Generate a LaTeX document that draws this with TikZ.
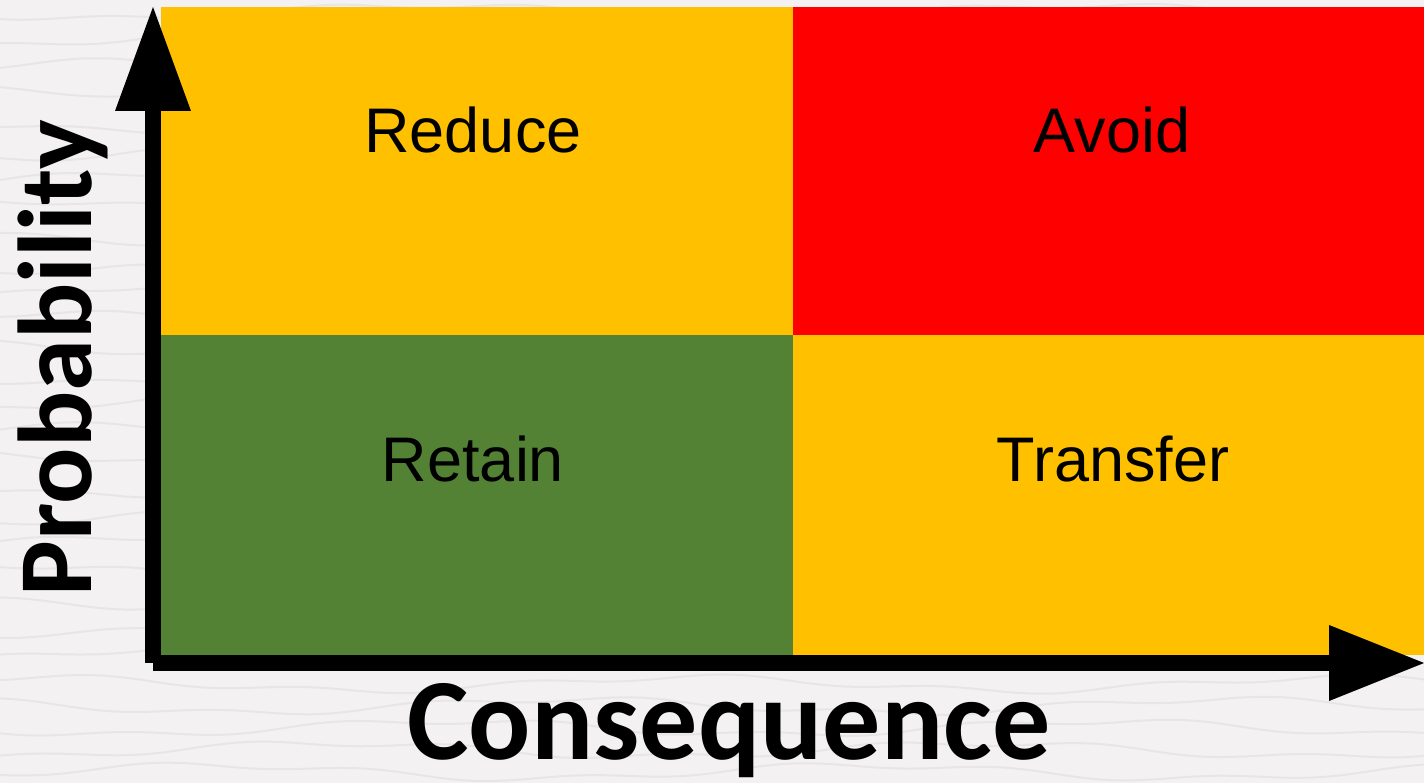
\documentclass[tikz,border=0pt]{standalone}
\usepackage{fontspec}
\setmainfont{Liberation Sans}
\newfontfamily\axisfont{Carlito}
\usetikzlibrary{arrows.meta}
\definecolor{paper}{HTML}{F3F1F1}
\definecolor{grain}{HTML}{E8E5E5}
\definecolor{amber}{HTML}{FFC000}
\definecolor{alarm}{HTML}{FF0000}
\definecolor{moss}{HTML}{548235}
\tikzset{
  cell/.style={inner sep=0pt, outer sep=0pt, draw=none},
  celltext/.style={font=\fontsize{63}{63}\selectfont, text=black, anchor=base, inner sep=0pt},
  axislabel/.style={text=black, inner sep=0pt},
  axisline/.style={line width=16pt, black,
    -{Triangle[length=104pt,width=76pt,line width=0pt]}},
  axisline2/.style={line width=16pt, black,
    -{Triangle[length=95pt,width=76pt,line width=0pt]}},
}
\begin{document}
\begin{tikzpicture}[x=1pt,y=-1pt]
  % paper background
  \fill[paper] (0,0) rectangle (1424,783);
  \useasboundingbox (0,0) rectangle (1424,783);
  % faint wood grain
  \begin{scope}[grain, line width=2pt]
    \foreach \yy in {12,40,68,96,124,152,180,208,236,264,292,320,348,376,404,432,460,488,516,544,572,600,628,656,684,706,728,750,772}{
      \draw plot[domain=0:1424, samples=70, smooth]
        (\x, {\yy + 7*sin(\x*0.55 + \yy*3) + 3*sin(\x*1.7 + \yy*7)});
    }
  \end{scope}

  % quadrants
  \fill[amber] (161,7) rectangle (793,335);
  \fill[alarm] (793,7) rectangle (1424,335);
  \fill[moss]  (161,335) rectangle (793,655);
  \fill[amber] (793,335) rectangle (1424,655);
  \node[cell] (reduce)   at (477,171) {};
  \node[cell] (avoid)    at (1108,171) {};
  \node[cell] (retain)   at (477,495) {};
  \node[cell] (transfer) at (1108,495) {};

  \node[celltext] (treduce)   at (473,153)  {Reduce};
  \node[celltext] (tavoid)    at (1112,153) {Avoid};
  \node[celltext] (tretain)   at (473,481)  {Retain};
  \node[celltext] (ttransfer) at (1113,481) {Transfer};

  % axes
  \coordinate (origin) at (153,663);
  \coordinate (ytop)   at (153,7);
  \coordinate (xend)   at (1424,663);
  \draw[axisline]  (origin) -- (ytop);
  \draw[axisline2] (origin) -- (xend);

  % axis titles
  \node[axislabel, font=\axisfont\bfseries\fontsize{116}{116}\selectfont, anchor=base]
    (xlabel) at (729,759) {Consequence};
  \node[axislabel, font=\axisfont\bfseries\fontsize{105}{105}\selectfont, anchor=base, rotate=90]
    (ylabel) at (91,358) {Probability};
\end{tikzpicture}
\end{document}
